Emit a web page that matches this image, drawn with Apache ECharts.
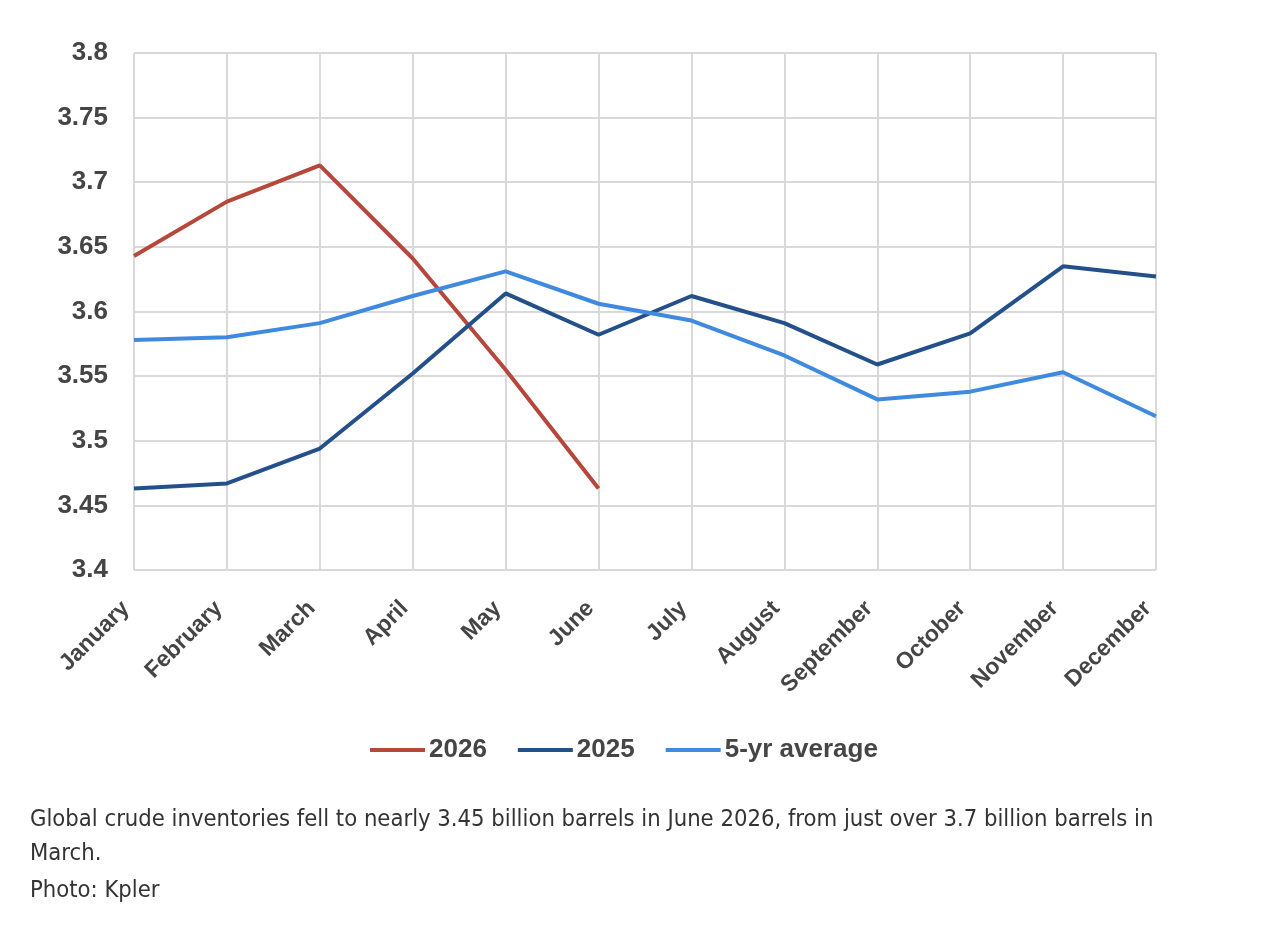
<!DOCTYPE html>
<html>
<head>
<meta charset="utf-8">
<script src="https://cdn.jsdelivr.net/npm/echarts@6/dist/echarts.min.js"></script>
<style>
  html, body { margin: 0; padding: 0; background: #fff; }
  #chart { width: 1276px; height: 950px; }
</style>
</head>
<body>
<div id="chart"></div>
<script>
const months = ["January", "February", "March", "April", "May", "June",
    "July", "August", "September", "October", "November", "December"];
const y2026 = [3.643, 3.685, 3.713, 3.641, 3.555, 3.463];
const y2025 = [3.463, 3.467, 3.494, 3.552, 3.614, 3.582, 3.612, 3.591, 3.559, 3.583, 3.635, 3.627];
const avg5 = [3.578, 3.580, 3.591, 3.612, 3.631, 3.606, 3.593, 3.566, 3.532, 3.538, 3.553, 3.519];
const captionLines = [
    "Global crude inventories fell to nearly 3.45 billion barrels in June 2026, from just over 3.7 billion barrels in",
    "March.",
    "Photo: Kpler"
];

const chart = echarts.init(document.getElementById("chart"));

const gridColor = "#d9d9d9";
const labelColor = "#454545";

const option = {
    animation: false,
    grid: { left: 134, right: 120, top: 53, bottom: 380 },
    legend: {
        top: 732,
        left: 365,
        itemWidth: 55,
        itemHeight: 4,
        itemGap: 31,
        icon: "rect",
        textStyle: { fontSize: 26, fontWeight: "bold", color: labelColor, fontFamily: "Liberation Sans", padding: [0, 0, 0, -1] },
        data: ["2026", "2025", "5-yr average"]
    },
    xAxis: {
        type: "category",
        data: months,
        boundaryGap: false,
        axisLine: { show: false },
        axisTick: { show: false },
        splitLine: { show: true, lineStyle: { color: gridColor, width: 2 } },
        axisLabel: {
            rotate: 45,
            margin: 43,
            interval: 0,
            verticalAlign: "bottom",
            fontSize: 23,
            fontWeight: "bold",
            color: labelColor,
            fontFamily: "Liberation Sans"
        }
    },
    yAxis: {
        type: "value",
        min: 3.4,
        max: 3.8,
        interval: 0.05,
        axisLine: { show: false },
        axisTick: { show: false },
        splitLine: { lineStyle: { color: gridColor, width: 2 } },
        axisLabel: {
            margin: 26,
            fontSize: 26,
            fontWeight: "bold",
            color: labelColor,
            fontFamily: "Liberation Sans",
            formatter: function (v) { return String(parseFloat(v.toFixed(2))); }
        }
    },
    series: [{
        name: "2026",
        type: "line",
        data: y2026,
        symbol: "none",
        color: "#b6473b",
        lineStyle: { width: 4 }
    }, {
        name: "2025",
        type: "line",
        data: y2025,
        symbol: "none",
        color: "#24508a",
        lineStyle: { width: 4 }
    }, {
        name: "5-yr average",
        type: "line",
        data: avg5,
        symbol: "none",
        color: "#3f8ade",
        lineStyle: { width: 4 }
    }],
    graphic: captionLines.map(function (line, i) {
        return {
            type: "text",
            left: 30,
            top: [808, 842, 879][i],
            style: {
                text: line,
                font: "23.6px 'DejaVu Sans Condensed', 'Liberation Sans Narrow', sans-serif",
                fill: "#333"
            }
        };
    })
};
chart.setOption(option);
</script>
</body>
</html>
